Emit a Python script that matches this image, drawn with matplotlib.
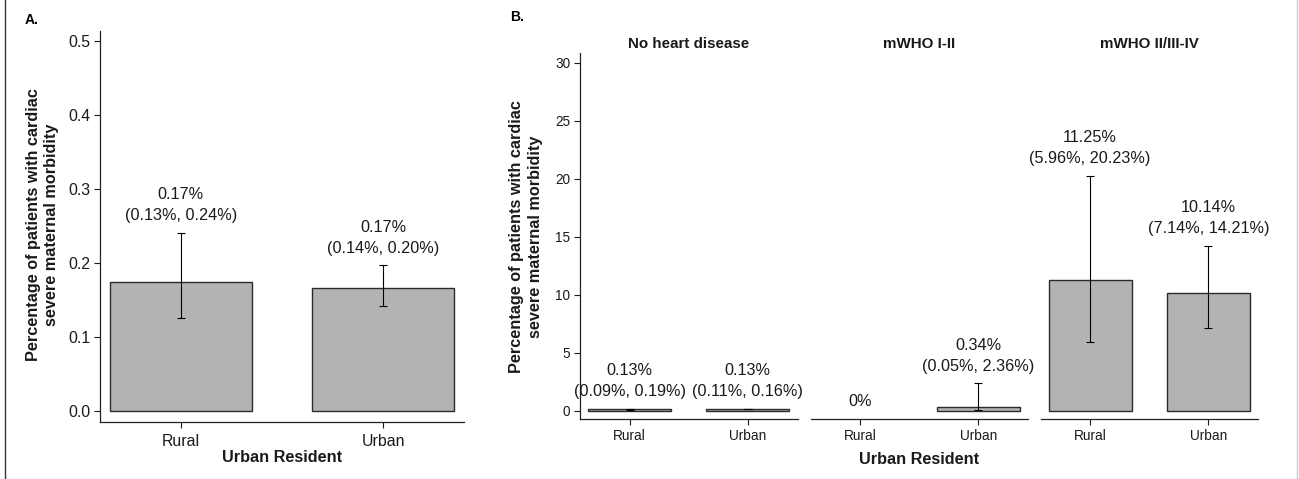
import numpy as np
import matplotlib.pyplot as plt
from matplotlib.lines import Line2D

plt.rcParams['font.family'] = ['Liberation Sans', 'DejaVu Sans']

# Panel A: overall, by residence
a_categories = ["Rural", "Urban"]
a_pct = [0.174, 0.166]
a_lower = [0.126, 0.142]
a_upper = [0.241, 0.197]

# Panel B: by heart disease group
b_groups = ["No heart disease", "mWHO I-II", "mWHO II/III-IV"]
b_categories = ["Rural", "Urban"]
b_pct = [[0.13, 0.13], [0.0, 0.34], [11.25, 10.14]]
b_lower = [[0.09, 0.11], [np.nan, 0.05], [5.96, 7.14]]
b_upper = [[0.19, 0.16], [np.nan, 2.36], [20.23, 14.21]]

W, H = 1299, 479
FILL = "#B3B3B3"
EDGE = "#2B2B2B"
TXT = "#1A1A1A"


def fx(px):
    return px / W


def fy(py):
    return 1 - py / H


def draw_bars(ax, cats, pct, lo, hi, capsize, tick_fs):
    pct = np.asarray(pct, float)
    lo = np.asarray(lo, float)
    hi = np.asarray(hi, float)
    x = np.arange(len(cats))
    keep = pct > 0
    ax.bar(x[keep], pct[keep], width=0.7, color=FILL, edgecolor=EDGE, linewidth=1.0)
    ax.errorbar(x, pct, yerr=[pct - lo, hi - pct], fmt="none", ecolor="black",
                elinewidth=0.8, capsize=capsize, capthick=0.8)
    for xi, v, l, h in zip(x, pct, lo, hi):
        if v == 0:
            txt, top, off = "0%", v, 1.5
        else:
            txt, top, off = f"{v:.2f}%\n({l:.2f}%, {h:.2f}%)", h, 7
        ax.annotate(txt, (xi, top), xytext=(0, off), textcoords="offset points",
                    ha="center", va="bottom", fontsize=11.7, color=TXT,
                    linespacing=1.5)
    ax.set_xticks(x, cats)
    ax.set_xlim(-0.42, len(cats) - 1 + 0.42)
    ax.tick_params(labelsize=tick_fs, colors=TXT, length=4, width=0.8, pad=3)
    for s in ["top", "right"]:
        ax.spines[s].set_visible(False)
    for s in ["left", "bottom"]:
        ax.spines[s].set_linewidth(0.9)
        ax.spines[s].set_color("#222222")


fig = plt.figure(figsize=(W / 100, H / 100), dpi=100)

# ---- panel A
axA = fig.add_axes([fx(100), fy(422), fx(464) - fx(100), fy(31) - fy(422)])
draw_bars(axA, a_categories, a_pct, a_lower, a_upper, capsize=3, tick_fs=11.4)
axA.set_xlim(-0.4, 1.4)
axA.set_ylim(-0.0144, 0.513)
axA.set_yticks(np.arange(0, 0.51, 0.1))
axA.set_yticklabels([f"{t:.1f}" for t in np.arange(0, 0.51, 0.1)])
axA.tick_params(axis="x", pad=4.5)

fig.text(fx(25), fy(20), "A.", fontsize=10, fontweight="bold", ha="left", va="center")
fig.text(fx(42.5), fy(225), "Percentage of patients with cardiac\nsevere maternal morbidity",
         rotation=90, ha="center", va="center", fontsize=11.7, fontweight="bold",
         linespacing=1.3, color=TXT)
fig.text(fx(282), fy(458), "Urban Resident", ha="center", va="center",
         fontsize=11.7, fontweight="bold", color=TXT)

# ---- panel B (facets)
facet_left = [580, 810.5, 1040.5]
facet_w = 217.5
for i, grp in enumerate(b_groups):
    ax = fig.add_axes([fx(facet_left[i]), fy(419.3), facet_w / W, fy(53.3) - fy(419.3)])
    draw_bars(ax, b_categories, b_pct[i], b_lower[i], b_upper[i], capsize=2.6, tick_fs=9.8)
    ax.set_ylim(-0.74, 30.81)
    ax.set_yticks(range(0, 31, 5))
    if i > 0:
        ax.spines["left"].set_visible(False)
        ax.tick_params(axis="y", left=False, labelleft=False)
    ax.set_title(grp, fontsize=10.9, fontweight="bold", color=TXT, pad=3.5)

fig.text(fx(510), fy(17), "B.", fontsize=10, fontweight="bold", ha="left", va="center")
fig.text(fx(526), fy(236.5), "Percentage of patients with cardiac\nsevere maternal morbidity",
         rotation=90, ha="center", va="center", fontsize=11.7, fontweight="bold",
         linespacing=1.3, color=TXT)
fig.text(fx(919), fy(459), "Urban Resident", ha="center", va="center",
         fontsize=11.7, fontweight="bold", color=TXT)

# frame lines at the figure edges
fig.add_artist(Line2D([fx(4.5), fx(4.5)], [0, 1], color="#333333", lw=1.0))
fig.add_artist(Line2D([fx(1297), fx(1297)], [0, 1], color="#C8C8C8", lw=1.0))

fig.savefig("out.png", dpi=100)
